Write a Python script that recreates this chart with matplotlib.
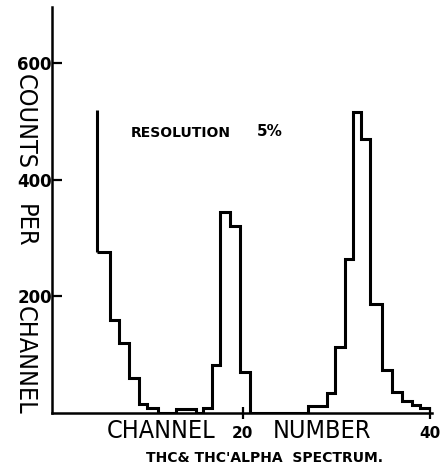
import matplotlib.pyplot as plt
from matplotlib import font_manager
from matplotlib.font_manager import FontProperties

# narrow lettering for the axis titles, if a condensed face is installed
label_font = FontProperties(family='DejaVu Sans', stretch='condensed', size=18)
if 'Condensed' not in font_manager.findfont(label_font):
    label_font = FontProperties(family='DejaVu Sans', size=16)

# Bin edges (channel number) and counts per channel
edges = [4.4, 5.8, 6.8, 7.8, 8.9, 9.8, 10.9, 12.8, 15.0, 15.7, 16.7, 17.5,
         18.6, 19.7, 20.75, 27.0, 29.0, 29.8, 30.9, 31.8, 32.6, 33.6, 34.9,
         35.9, 37.0, 38.1, 38.9, 40.0]
counts = [276, 159, 120, 60, 15, 9, 0, 7, 0, 8, 82, 345,
          320, 70, 0, 12, 34, 113, 264, 516, 470, 187,
          74, 36, 20, 14, 8]
# low-energy tail runs off above the first bin
tail_top = 520

x_ticks = [20, 40]
y_ticks = [200, 400, 600]

fig = plt.figure(figsize=(4.46, 4.73), dpi=100)
ax = fig.add_axes([52 / 446, 1 - 413 / 473, 380 / 446, 406 / 473])

ax.stairs(counts, edges, baseline=None, color='black', linewidth=2.2)
ax.plot([edges[0], edges[0]], [counts[0], tail_top], color='black',
        linewidth=2.2, solid_capstyle='butt')

ax.set_xlim(-0.4, 40.2)
ax.set_ylim(0, 696)

for side in ['top', 'right']:
    ax.spines[side].set_visible(False)
for side in ['left', 'bottom']:
    ax.spines[side].set_linewidth(1.8)

ax.set_xticks(x_ticks)
ax.set_yticks(y_ticks)
ax.tick_params(axis='x', direction='inout', length=9, width=1.6, pad=5,
               labelsize=11)
ax.tick_params(axis='y', direction='in', length=7, width=1.6, pad=0,
               labelsize=12)
for lab in ax.get_xticklabels() + ax.get_yticklabels():
    lab.set_fontweight('bold')

# axis titles are split around the tick labels
for word, y in [('COUNTS', 74), ('PER', 204), ('CHANNEL', 306)]:
    fig.text(25 / 446, 1 - y / 473, word, rotation=-90, ha='center',
             va='top', fontproperties=label_font)
for word, x in [('CHANNEL', 161), ('NUMBER', 322)]:
    fig.text(x / 446, 1 - 431 / 473, word, ha='center', va='center',
             fontproperties=label_font)

fig.text(181 / 446, 1 - 133 / 473, 'RESOLUTION', ha='center', va='center',
         fontsize=10, fontweight='bold')
fig.text(270 / 446, 1 - 131 / 473, '5%', ha='center', va='center',
         fontsize=11, fontweight='bold')
fig.text(265 / 446, 1 - 458 / 473, "THC& THC'ALPHA  SPECTRUM.", ha='center',
         va='center', fontsize=10, fontweight='bold')

fig.savefig('out.png', dpi=100)
